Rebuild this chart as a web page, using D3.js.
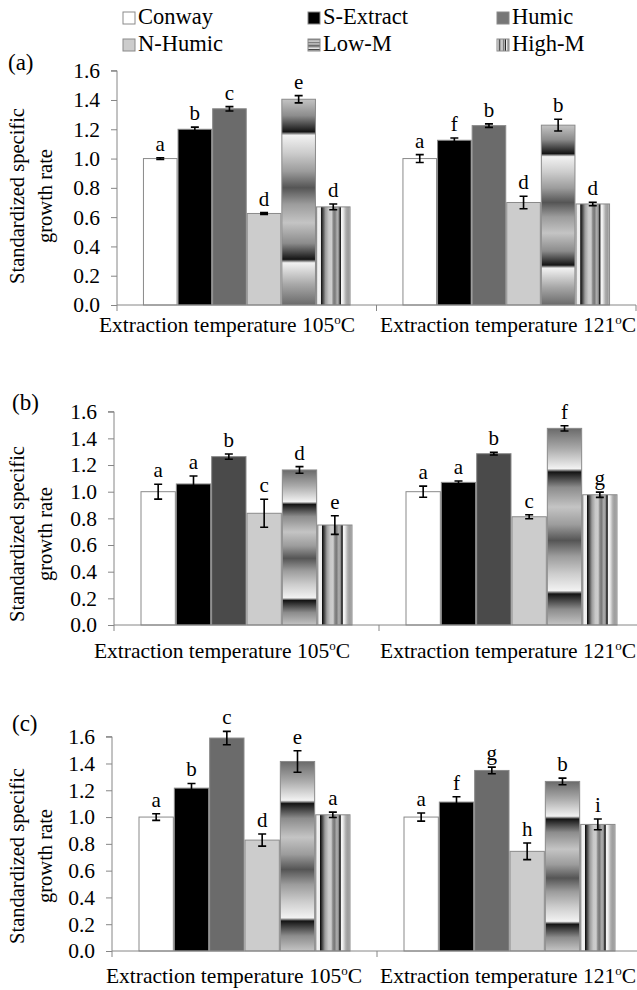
<!DOCTYPE html>
<html>
<head>
<meta charset="utf-8">
<title>Standardized specific growth rate</title>
<script src="https://cdnjs.cloudflare.com/ajax/libs/d3/7.8.5/d3.min.js"></script>
<style>
  body { margin: 0; background: #fff; }
  svg { display: block; }
  text { font-family: 'Liberation Serif', 'Tinos', 'DejaVu Serif', serif; }
</style>
</head>
<body>
<script>
// ---- data ----
const series = ["Conway", "S-Extract", "Humic", "N-Humic", "Low-M", "High-M"];
const temps = ["105", "121"];
const yTicks = [0, 0.2, 0.4, 0.6, 0.8, 1.0, 1.2, 1.4, 1.6];

// panel (a)
const valuesA  = [[1.00, 1.20, 1.34, 0.625, 1.405, 0.67], [1.00, 1.125, 1.225, 0.70, 1.228, 0.69]];
const errorsA  = [[0.006, 0.015, 0.015, 0.006, 0.025, 0.02], [0.027, 0.015, 0.012, 0.043, 0.04, 0.012]];
const lettersA = [["a", "b", "c", "d", "e", "d"], ["a", "f", "b", "d", "b", "d"]];

// panel (b)
const valuesB  = [[1.00, 1.058, 1.263, 0.838, 1.163, 0.75], [1.00, 1.07, 1.285, 0.812, 1.475, 0.977]];
const errorsB  = [[0.056, 0.06, 0.02, 0.105, 0.025, 0.07], [0.042, 0.01, 0.01, 0.015, 0.02, 0.02]];
const lettersB = [["a", "a", "b", "c", "d", "e"], ["a", "a", "b", "c", "f", "g"]];

// panel (c)
const valuesC  = [[1.00, 1.216, 1.59, 0.828, 1.415, 1.017], [1.00, 1.112, 1.348, 0.744, 1.266, 0.945]];
const errorsC  = [[0.025, 0.035, 0.05, 0.045, 0.08, 0.02], [0.03, 0.04, 0.025, 0.062, 0.025, 0.04]];
const lettersC = [["a", "b", "c", "d", "e", "a"], ["a", "f", "g", "h", "b", "i"]];

// ---- layout / styles ----
const W = 637, H = 990;
const FONT = "'Liberation Serif', 'Tinos', 'DejaVu Serif', serif";
const panels = [
  { tag: "(a)", values: valuesA, errors: errorsA, letters: lettersA,
    left: 117, right: 636, top: 70.7, bottom: 305, tagX: 8, tagY: 70,
    labelY: 332, end1: 355, start2: 380, humic: "#6b6b6b", flip: true, ylabY: 196 },
  { tag: "(b)", values: valuesB, errors: errorsB, letters: lettersB,
    left: 114, right: 644, top: 411.7, bottom: 625, tagX: 12, tagY: 410,
    labelY: 658, end1: 350, start2: 380, humic: "#4a4a4a", flip: false, ylabY: 534 },
  { tag: "(c)", values: valuesC, errors: errorsC, letters: lettersC,
    left: 112, right: 642, top: 736.7, bottom: 951, tagX: 12, tagY: 731,
    labelY: 983, end1: 362, start2: 380, humic: "#6b6b6b", flip: false, ylabY: 856 }
];

const svg = d3.select("body").append("svg").attr("width", W).attr("height", H)
  .attr("font-family", FONT);
const defs = svg.append("defs");

// Low-M: banded vertical gradient stretched over the bar
const lowStops = [
  [0.00, "#6a6a6a"], [0.10, "#a8a8a8"], [0.205, "#f2f2f2"], [0.222, "#141414"],
  [0.30, "#8c8c8c"], [0.40, "#c4c4c4"], [0.49, "#9c9c9c"], [0.57, "#555"],
  [0.65, "#9c9c9c"], [0.74, "#cdcdcd"], [0.825, "#f2f2f2"], [0.842, "#141414"],
  [0.92, "#8c8c8c"], [1.00, "#c4c4c4"]
];
function lowGrad(id, flip) {
  const g = defs.append("linearGradient").attr("id", id)
    .attr("x1", 0).attr("x2", 0).attr("y1", flip ? 1 : 0).attr("y2", flip ? 0 : 1);
  lowStops.forEach(s => g.append("stop").attr("offset", s[0]).attr("stop-color", s[1]));
}
lowGrad("lowM", false);
lowGrad("lowMflip", true);

// High-M: vertical stripes
const highStops = [
  [0.00, "#c0c0c0"], [0.05, "#f2f2f2"], [0.12, "#eeeeee"], [0.14, "#111"], [0.18, "#3a3a3a"],
  [0.27, "#9c9c9c"], [0.37, "#c8c8c8"], [0.45, "#cecece"], [0.50, "#888"], [0.55, "#7a7a7a"],
  [0.62, "#b2b2b2"], [0.67, "#888"], [0.70, "#2a2a2a"], [0.72, "#222"], [0.74, "#f6f6f6"],
  [0.79, "#eeeeee"], [0.88, "#ababab"], [0.95, "#9a9a9a"], [1.00, "#cfcfcf"]
];
const hg = defs.append("linearGradient").attr("id", "highM")
  .attr("x1", 0).attr("x2", 1).attr("y1", 0).attr("y2", 0);
highStops.forEach(s => hg.append("stop").attr("offset", s[0]).attr("stop-color", s[1]));

function fillFor(i, p) {
  return [ "#ffffff", "#000000", p.humic, "#cccccc",
           p.flip ? "url(#lowMflip)" : "url(#lowM)", "url(#highM)" ][i];
}

const axisColor = "#868686";
const barStroke = "#8a8a8a";

// ---- legend ----
const legendFills = ["#ffffff", "#000000", "#777777", "#cccccc", "url(#lowM)", "url(#highM)"];
const legX = [123, 308, 497];
const legY = [24, 51];
const leg = svg.append("g");
series.forEach((s, i) => {
  const x = legX[i % 3], y = legY[Math.floor(i / 3)];
  leg.append("rect").attr("x", x).attr("y", y - 12).attr("width", 12).attr("height", 12)
    .attr("fill", legendFills[i]).attr("stroke", barStroke).attr("stroke-width", 1);
  leg.append("text").attr("x", x + 15).attr("y", y).style("font-size", "22.5px").text(s);
});

// ---- panels ----
panels.forEach(p => {
  const g = svg.append("g");
  const y = d3.scaleLinear().domain([0, 1.6]).range([p.bottom, p.top]);
  const x0 = d3.scaleBand().domain(temps).range([p.left, p.right])
    .paddingInner(0.2).paddingOuter(0.1);
  const x1 = d3.scaleBand().domain(series).range([0, x0.bandwidth()]).padding(0);

  // y axis
  const ya = g.append("g").attr("transform", `translate(${p.left},0)`)
    .call(d3.axisLeft(y).tickValues(yTicks).tickFormat(d3.format(".1f")).tickSize(6).tickPadding(11));
  ya.select(".domain").attr("stroke", axisColor).attr("d", `M-6,${p.top}H0V${p.bottom}`);
  ya.selectAll(".tick line").attr("stroke", axisColor);
  ya.selectAll(".tick text").attr("fill", "#000").style("font-size", "21.5px");

  // bars
  temps.forEach((t, ci) => {
    series.forEach((s, si) => {
      const v = p.values[ci][si], e = p.errors[ci][si];
      const bx = x0(t) + x1(s), bw = x1.bandwidth();
      g.append("rect").attr("x", bx + 0.5).attr("y", y(v)).attr("width", bw - 1)
        .attr("height", y(0) - y(v))
        .attr("fill", fillFor(si, p)).attr("stroke", barStroke).attr("stroke-width", 1);
      const cx = bx + bw / 2;
      g.append("path")
        .attr("d", `M${cx},${y(v + e)}V${y(v - e)}M${cx - 4},${y(v + e)}H${cx + 4}M${cx - 4},${y(v - e)}H${cx + 4}`)
        .attr("stroke", "#000").attr("stroke-width", 1.6).attr("fill", "none");
      g.append("text").attr("x", cx).attr("y", y(v + e) - 7)
        .attr("text-anchor", "middle").style("font-size", "21px").text(p.letters[ci][si]);
    });
  });

  // x axis line and category ticks
  g.append("line").attr("x1", p.left).attr("x2", p.right).attr("y1", p.bottom).attr("y2", p.bottom)
    .attr("stroke", axisColor).attr("stroke-width", 1);
  const bounds = [p.left, (p.left + p.right) / 2, p.right];
  bounds.forEach(bx => g.append("line").attr("x1", bx).attr("x2", bx)
    .attr("y1", p.bottom).attr("y2", p.bottom + 6).attr("stroke", axisColor));

  // category labels
  temps.forEach((t, ci) => {
    const tx = g.append("text").attr("y", p.labelY).style("font-size", "21.5px")
      .attr("x", ci === 0 ? p.end1 : p.start2)
      .attr("text-anchor", ci === 0 ? "end" : "start");
    tx.append("tspan").text("Extraction temperature " + t);
    tx.append("tspan").style("font-size", "13px").attr("dy", -8).text("o");
    tx.append("tspan").attr("dy", 8).text("C");
  });

  // panel tag
  g.append("text").attr("x", p.tagX).attr("y", p.tagY).style("font-size", "23px").text(p.tag);

  // y axis title (two lines)
  const yl = g.append("text").style("font-size", "20.5px").attr("text-anchor", "middle")
    .attr("transform", `translate(0,${p.ylabY}) rotate(-90)`);
  yl.append("tspan").attr("x", 0).attr("y", 24).text("Standardized specific");
  yl.append("tspan").attr("x", 0).attr("y", 52).text("growth rate");
});
</script>
</body>
</html>
